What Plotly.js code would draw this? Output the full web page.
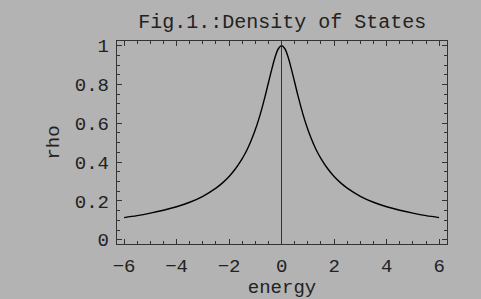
<!DOCTYPE html>
<html>
<head>
<meta charset="utf-8">
<script src="https://cdn.plot.ly/plotly-3.0.1.min.js"></script>
<style>html,body{margin:0;padding:0;background:#b3b3b3;}#chart{width:481px;height:299px;}</style>
</head>
<body>
<div id="chart"></div>
<script>
const energy = [-6, -5.5, -5, -4.5, -4, -3.5, -3, -2.5, -2.25, -2, -1.75, -1.5, -1.375, -1.25, -1.125, -1, -0.875, -0.75, -0.625, -0.5, -0.375, -0.25, -0.125, 0,
                0.125, 0.25, 0.375, 0.5, 0.625, 0.75, 0.875, 1, 1.125, 1.25, 1.375, 1.5, 1.75, 2, 2.25, 2.5, 3, 3.5, 4, 4.5, 5, 5.5, 6];
const rho = [0.114, 0.124, 0.137, 0.152, 0.170, 0.193, 0.224, 0.266, 0.293, 0.326, 0.367, 0.418, 0.448, 0.483, 0.523, 0.568, 0.619, 0.677, 0.741, 0.810, 0.878, 0.940, 0.984, 1.00,
             0.984, 0.940, 0.878, 0.810, 0.741, 0.677, 0.619, 0.568, 0.523, 0.483, 0.448, 0.418, 0.367, 0.326, 0.293, 0.266, 0.224, 0.193, 0.170, 0.152, 0.137, 0.124, 0.114];
const xTicks = [-6, -4, -2, 0, 2, 4, 6];
const yTicks = [0, 0.2, 0.4, 0.6, 0.8, 1];
const yTickText = ['0', '0.2', '0.4', '0.6', '0.8', '1'];
const titleText = 'Fig.1.:Density of States';
const xTitle = 'energy';
const yTitle = 'rho';

const font = '"Liberation Mono", "Courier New", monospace';
const bg = '#b3b3b3';

Plotly.newPlot('chart', [{
  x: energy, y: rho, type: 'scatter', mode: 'lines',
  line: {color: '#000', width: 1.4, shape: 'spline', smoothing: 1},
  hoverinfo: 'skip'
}], {
  width: 481, height: 299,
  paper_bgcolor: bg, plot_bgcolor: bg,
  margin: {l: 117, r: 34, t: 41, b: 55},
  showlegend: false,
  font: {family: font, color: '#222', size: 19},
  title: {text: titleText, font: {family: font, size: 20, color: '#222'},
          x: 0.5868, xanchor: 'center', y: 0.93, yanchor: 'middle'},
  xaxis: {
    range: [-6.27, 6.3], tickvals: xTicks, ticks: 'inside', ticklen: 5, tickwidth: 1, tickcolor: '#333',
    minor: {dtick: 0.5, tick0: 0, ticks: 'inside', ticklen: 3, tickcolor: '#333', showgrid: false},
    mirror: 'allticks', showline: true, linecolor: '#333', linewidth: 1.2,
    showgrid: false, zeroline: true, zerolinecolor: '#333', zerolinewidth: 1.2,
    tickfont: {family: font, size: 19, color: '#222'}, ticklabelstandoff: 4,
    title: {text: xTitle, font: {family: font, size: 19, color: '#222'}, standoff: 6}
  },
  yaxis: {
    range: [-0.022, 1.024], tickvals: yTicks, ticktext: yTickText, ticks: 'inside', ticklen: 5, tickwidth: 1, tickcolor: '#333',
    minor: {dtick: 0.05, tick0: 0, ticks: 'inside', ticklen: 3, tickcolor: '#333', showgrid: false},
    mirror: 'allticks', showline: true, linecolor: '#333', linewidth: 1.2,
    showgrid: false, zeroline: false,
    tickfont: {family: font, size: 19, color: '#222'}, ticklabelstandoff: 3,
    title: {text: yTitle, font: {family: font, size: 19, color: '#222'}, standoff: 10}
  }
}, {staticPlot: true});
</script>
</body>
</html>
